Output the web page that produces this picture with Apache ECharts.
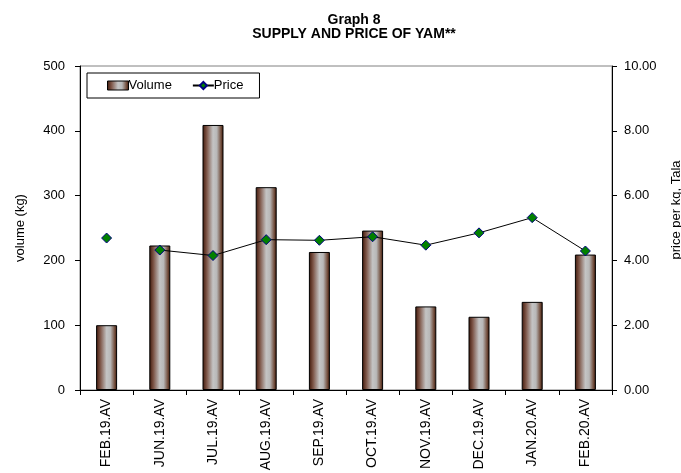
<!DOCTYPE html>
<html>
<head>
<meta charset="utf-8">
<script src="https://cdn.jsdelivr.net/npm/echarts@6/dist/echarts.min.js"></script>
<style>
  html, body { margin: 0; padding: 0; background: #fff; }
  #chart { width: 681px; height: 473px; }
</style>
</head>
<body>
<div id="chart"></div>
<script>
// data
var months = ['FEB.19.AV', 'JUN.19.AV', 'JUL.19.AV', 'AUG.19.AV', 'SEP.19.AV',
              'OCT.19.AV', 'NOV.19.AV', 'DEC.19.AV', 'JAN.20.AV', 'FEB.20.AV'];
var volume = [100, 223, 409, 313, 213, 246, 129, 113, 136, 209];
var price = [4.69, 4.32, 4.15, 4.64, 4.62, 4.73, 4.47, 4.85, 5.32, 4.29];

// first point is not joined to the line in the original
var priceLine = price.map(function (v, i) { return i === 0 ? null : v; });
var priceAlone = price.map(function (v, i) { return i === 0 ? v : null; });

var myChart = echarts.init(document.getElementById('chart'));

var barColor = new echarts.graphic.LinearGradient(0, 0, 1, 0, [
    {offset: 0, color: '#3e1608'},
    {offset: 0.2, color: '#7d5547'},
    {offset: 0.5, color: '#c4c4c4'},
    {offset: 0.68, color: '#b8b8b8'},
    {offset: 0.88, color: '#74503f'},
    {offset: 1, color: '#381204'}
]);

var diamond = {
    color: '#008000',
    borderColor: '#000080',
    borderWidth: 1
};

var option = {
    animation: false,
    textStyle: {fontFamily: 'Liberation Sans, Arial, sans-serif'},
    title: {
        text: 'Graph 8\nSUPPLY AND PRICE OF YAM**',
        left: 349,
        top: 8,
        textAlign: 'center',
        textStyle: {fontSize: 14, fontWeight: 'bold', color: '#000', lineHeight: 14}
    },
    legend: {
        left: 87,
        top: 73,
        padding: [6, 16, 6, 20],
        itemGap: 20,
        itemWidth: 21,
        itemHeight: 9,
        borderColor: '#000',
        borderWidth: 1,
        textStyle: {fontSize: 13, color: '#000', padding: [0, 0, 0, -5]},
        data: [
            {name: 'Volume', icon: 'rect', itemStyle: {color: barColor, borderColor: '#000', borderWidth: 1}},
            {name: 'Price'}
        ]
    },
    grid: {
        left: 80,
        right: 69,
        top: 66,
        bottom: 83,
        outerBoundsMode: 'none',
        show: true,
        borderColor: '#808080',
        borderWidth: 1
    },
    xAxis: {
        type: 'category',
        data: months,
        axisLine: {lineStyle: {color: '#000'}},
        axisTick: {show: true, length: 5, lineStyle: {color: '#000'}},
        axisLabel: {rotate: 90, fontSize: 14, color: '#000', margin: 9}
    },
    yAxis: [
        {
            type: 'value',
            name: 'volume (kg)',
            nameLocation: 'middle',
            nameGap: 53,
            nameTextStyle: {fontSize: 13, color: '#000'},
            min: 0,
            max: 500,
            interval: 100,
            axisLine: {show: true, lineStyle: {color: '#000'}},
            axisTick: {show: true, length: 5, lineStyle: {color: '#000'}},
            axisLabel: {fontSize: 13, color: '#000', margin: 15},
            splitLine: {show: false}
        },
        {
            type: 'value',
            name: 'price per kg, Tala',
            nameLocation: 'middle',
            nameGap: 58,
            nameRotate: 90,
            nameTextStyle: {fontSize: 13, color: '#000', padding: [0, 0, 0, 36]},
            min: 0,
            max: 10,
            interval: 2,
            axisLine: {show: true, lineStyle: {color: '#000'}},
            axisTick: {show: true, length: 5, lineStyle: {color: '#000'}},
            axisLabel: {
                fontSize: 13, color: '#000', margin: 12,
                formatter: function (v) { return v.toFixed(2); }
            },
            splitLine: {show: false}
        }
    ],
    series: [
        {
            name: 'Volume',
            type: 'bar',
            data: volume,
            barWidth: 21,
            itemStyle: {color: barColor, borderColor: '#000', borderWidth: 1}
        },
        {
            name: 'Price',
            type: 'line',
            yAxisIndex: 1,
            data: priceLine,
            symbol: 'diamond',
            symbolSize: 10,
            showAllSymbol: true,
            lineStyle: {color: '#000', width: 1},
            itemStyle: diamond
        },
        {
            name: 'Price',
            type: 'line',
            yAxisIndex: 1,
            data: priceAlone,
            symbol: 'diamond',
            symbolSize: 10,
            lineStyle: {color: '#000', width: 1},
            itemStyle: diamond
        }
    ]
};

myChart.setOption(option);
</script>
</body>
</html>
